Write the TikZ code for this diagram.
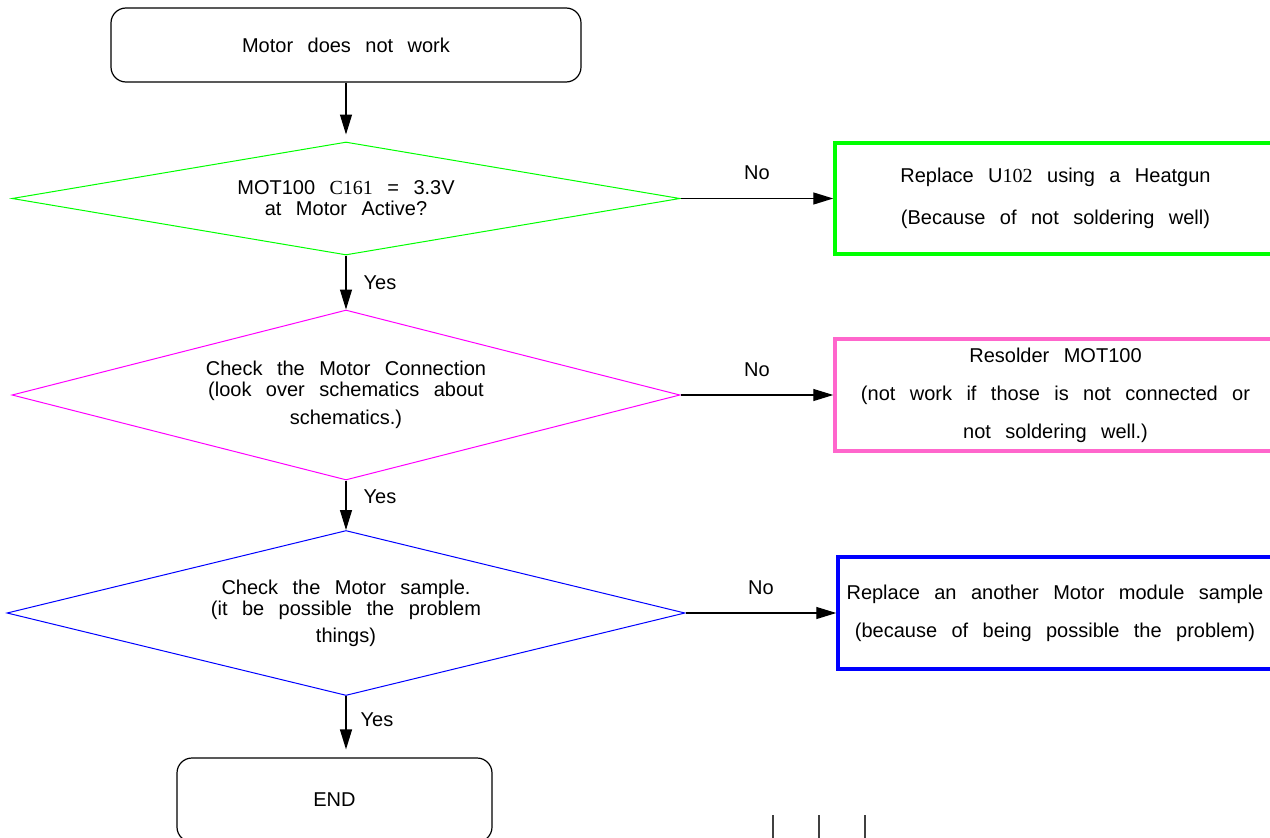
\documentclass[tikz,border=0pt]{standalone}
\usepackage{fontspec}
\setmainfont{Liberation Sans}[WordSpace=2.6]
\newfontfamily\numserif{Liberation Serif}[WordSpace=2.6]
\usetikzlibrary{positioning, arrows.meta, shapes.geometric}
\definecolor{qgreen}{HTML}{00FF00}
\definecolor{qmagenta}{HTML}{FF00FF}
\definecolor{fixpink}{HTML}{FF66CC}
\definecolor{qblue}{HTML}{0000FF}

\begin{document}
\begin{tikzpicture}[x=1pt, y=-1pt, font=\fontsize{20}{21}\selectfont,
    terminal/.style={draw, line width=1.2pt, rounded corners=15pt, inner sep=0},
    decision/.style={draw, diamond, line width=1pt, inner sep=0, align=center},
    action/.style={draw, line width=3.5pt, inner sep=0, align=center,
      font=\fontsize{20}{38}\selectfont},
    flow/.style={-{Triangle[length=20pt, width=12pt]}, line width=1.3pt},
    tag/.style={inner sep=0}]
  \useasboundingbox (0,0) rectangle (1270,838);

  \node[terminal, minimum width=470pt, minimum height=74pt] (start) at (346,45) {Motor does not work};
  \node[decision, qgreen, text=black, minimum width=668pt, minimum height=113pt, shape aspect=5.9]
    (motvolt) at (346,198.5) {MOT100 {\numserif C161} = 3.3V\\at Motor Active?};
  \node[decision, qmagenta, text=black, minimum width=668pt, minimum height=170pt, shape aspect=3.93]
    (motconn) at (346,395) {Check the Motor Connection\\(look over schematics about\\[7pt]schematics.)};
  \node[decision, qblue, text=black, minimum width=678pt, minimum height=165pt, shape aspect=4.1]
    (motsample) at (346,613) {Check the Motor sample.\\(it be possible the problem\\[6pt]things)};
  \node[terminal, minimum width=315pt, minimum height=84pt] (end) at (334.5,800) {END};

  \node[action, qgreen, text=black, minimum width=441pt, minimum height=111pt]
    (fixheat) at (1055.5,198.5) {Replace U{\numserif 102} using a Heatgun\\[4pt](Because of not soldering well)};
  \node[action, fixpink, text=black, minimum width=441pt, minimum height=112pt]
    (fixsolder) at (1055.5,395) {Resolder MOT100\\(not work if those is not connected or\\not soldering well.)};
  \node[action, qblue, text=black, minimum width=434pt, minimum height=112pt]
    (fixmodule) at (1055,613) {Replace an another Motor module sample\\(because of being possible the problem)};

  \draw[flow, shorten >=7pt] (start.south) -- (motvolt.north);
  \draw[flow] (motvolt.south) -- node[tag, right=17pt] {Yes} (motconn.north);
  \draw[flow] (motconn.south) -- node[tag, pos=0.33, right=17pt] {Yes} (motsample.north);
  \draw[flow, shorten >=8pt] (motsample.south) -- node[tag, pos=0.39, right=14pt] {Yes} (motsample.south |- end.north);

  \draw[flow] (motvolt.east) -- node[tag, above=18pt] {No} (fixheat.west);
  \draw[flow] (motconn.east) -- node[tag, above=18pt] {No} (fixsolder.west);
  \draw[flow] (motsample.east) -- node[tag, above=18pt] {No} (fixmodule.west);

  \foreach \xx in {773, 819, 865} {
    \draw[line width=1.3pt, black!75] (\xx,815) -- (\xx,840);
  }
\end{tikzpicture}
\end{document}
